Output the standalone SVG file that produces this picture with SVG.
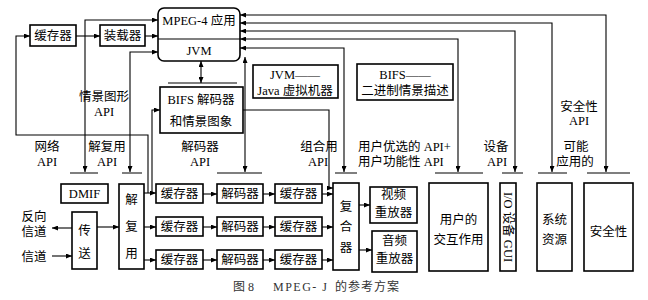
<svg xmlns="http://www.w3.org/2000/svg" width="648" height="300" viewBox="0 0 648 300">
<style>
.b{fill:#fff;stroke:#000;stroke-width:1.6}
.l{fill:none;stroke:#000;stroke-width:1.1}
.a{marker-end:url(#ah)}
.aa{marker-start:url(#ah);marker-end:url(#ah)}
.t{font-family:"Liberation Serif","Noto Sans CJK SC",serif;font-size:12.5px;text-anchor:middle;fill:#000}
.c{font-family:"Liberation Serif","Noto Sans CJK SC",serif;font-size:12px;fill:#333}
</style>
<defs>
<marker id="ah" markerWidth="6" markerHeight="5" refX="6" refY="2.5" orient="auto-start-reverse" markerUnits="userSpaceOnUse">
<path d="M0,0 L6,2.5 L0,5 z" fill="#000"/>
</marker>
</defs>
<rect width="648" height="300" fill="#fff"/>

<g id="connectors">
<path class="l aa" d="M158,20 H85 V172"/>
<path class="l a" d="M145,36 H158"/>
<path class="l aa" d="M158,52 H130 V172"/>
<path class="l a" d="M76,36 H100"/>
<path class="l a" d="M148,193 V135 H16 V36 H30"/>
<path class="l a" d="M144,193 H156"/>
<path class="l a" d="M152,193 V110 H160"/>
<path class="l a" d="M144,227 H156"/>
<path class="l a" d="M144,260 H156"/>
<path class="l a" d="M203,194 H217"/>
<path class="l a" d="M263,194 H275"/>
<path class="l a" d="M322,194 H333"/>
<path class="l a" d="M203,227 H217"/>
<path class="l a" d="M263,227 H275"/>
<path class="l a" d="M322,227 H333"/>
<path class="l a" d="M203,260 H217"/>
<path class="l a" d="M263,260 H275"/>
<path class="l a" d="M322,260 H333"/>
<path class="l a" d="M243,110 H329 V188 H333"/>
<path class="l aa" d="M245,57 V172"/>
<path class="l aa" d="M240,15 H606 V172"/>
<path class="l aa" d="M240,23 H552 V172"/>
<path class="l aa" d="M240,31 H515 V172"/>
<path class="l aa" d="M240,39 H458 V172"/>
<path class="l aa" d="M240,48 H344 V172"/>
<path class="l a" d="M359,205 H370"/>
<path class="l a" d="M359,250 H372"/>
<path class="l a" d="M97,227 H119"/>
<path class="l a" d="M72,228 H52"/>
<path class="l a" d="M52,256 H72"/>
<path class="l aa" d="M201,61 V83"/>
<path class="l" d="M70,173 H98 M122,173 H142 M217,173 H262 M335,173 H357 M435,173 H483 M502,173 H523 M538,173 H567 M587,173 H630 M168,83 H237"/>
</g>

<g id="mpeg4app">
<rect class="b" x="158" y="8" width="82" height="53" rx="6"/>
<line class="l" x1="158" y1="39" x2="240" y2="39"/>
<text class="t" x="199" y="25">MPEG-4 应用</text>
<text class="t" x="199" y="55">JVM</text>
</g>
<g id="buffer-top"><rect class="b" x="30" y="25" width="46" height="21"/><text class="t" x="53" y="40">缓存器</text></g>
<g id="loader"><rect class="b" x="100" y="25" width="45" height="21"/><text class="t" x="122.5" y="40">装载器</text></g>
<g id="jvm-note"><rect class="b" x="253" y="65" width="85" height="33"/><text class="t" x="295" y="79">JVM——</text><text class="t" x="295" y="95">Java 虚拟机器</text></g>
<g id="bifs-note"><rect class="b" x="357" y="64" width="96" height="36"/><text class="t" x="405" y="79">BIFS——</text><text class="t" x="405" y="95">二进制情景描述</text></g>
<g id="bifs-decoder"><rect class="b" x="160" y="87" width="83" height="46"/><text class="t" x="201" y="104">BIFS 解码器</text><text class="t" x="201" y="126">和情景图象</text></g>
<g id="dmif"><rect class="b" x="61" y="184" width="47" height="19"/><text class="t" x="84.5" y="198">DMIF</text></g>
<g id="transport"><rect class="b" x="72" y="212" width="25" height="57"/><text class="t" x="84.5" y="235">传</text><text class="t" x="84.5" y="258">送</text></g>
<g id="demux"><rect class="b" x="119" y="184" width="25" height="85"/><text class="t" x="131.5" y="204">解</text><text class="t" x="131.5" y="231">复</text><text class="t" x="131.5" y="258">用</text></g>

<g id="row1-buf1"><rect class="b" x="156" y="184" width="47" height="19"/><text class="t" x="179.5" y="198">缓存器</text></g>
<g id="row1-dec"><rect class="b" x="217" y="184" width="46" height="19"/><text class="t" x="240" y="198">解码器</text></g>
<g id="row1-buf2"><rect class="b" x="275" y="184" width="47" height="19"/><text class="t" x="298.5" y="198">缓存器</text></g>
<g id="row2-buf1"><rect class="b" x="156" y="217" width="47" height="19"/><text class="t" x="179.5" y="231">缓存器</text></g>
<g id="row2-dec"><rect class="b" x="217" y="217" width="46" height="19"/><text class="t" x="240" y="231">解码器</text></g>
<g id="row2-buf2"><rect class="b" x="275" y="217" width="47" height="19"/><text class="t" x="298.5" y="231">缓存器</text></g>
<g id="row3-buf1"><rect class="b" x="156" y="250" width="47" height="19"/><text class="t" x="179.5" y="264">缓存器</text></g>
<g id="row3-dec"><rect class="b" x="217" y="250" width="46" height="19"/><text class="t" x="240" y="264">解码器</text></g>
<g id="row3-buf2"><rect class="b" x="275" y="250" width="47" height="19"/><text class="t" x="298.5" y="264">缓存器</text></g>

<g id="compositor"><rect class="b" x="333" y="183" width="26" height="87"/><text class="t" x="346" y="211">复</text><text class="t" x="346" y="231">合</text><text class="t" x="346" y="252">器</text></g>
<g id="video"><rect class="b" x="370" y="187" width="47" height="36"/><text class="t" x="393.5" y="199">视频</text><text class="t" x="393.5" y="217">重放器</text></g>
<g id="audio"><rect class="b" x="372" y="231" width="45" height="41"/><text class="t" x="394.5" y="245">音频</text><text class="t" x="394.5" y="263">重放器</text></g>
<g id="user-interaction"><rect class="b" x="429" y="183" width="59" height="88"/><text class="t" x="458.5" y="224">用户的</text><text class="t" x="458.5" y="244">交互作用</text></g>
<g id="io-gui"><rect class="b" x="500" y="183" width="16" height="88"/><text class="t" transform="translate(508,227) rotate(90)" y="4.5">I/O 设备 GUI</text></g>
<g id="system-resources"><rect class="b" x="537" y="183" width="35" height="88"/><text class="t" x="554.5" y="224">系统</text><text class="t" x="554.5" y="244">资源</text></g>
<g id="security"><rect class="b" x="584" y="183" width="49" height="88"/><text class="t" x="608.5" y="236">安全性</text></g>

<g id="labels">
<text class="t" x="104" y="101">情景图形</text><text class="t" x="104" y="116">API</text>
<text class="t" x="47" y="151">网络</text><text class="t" x="47" y="166">API</text>
<text class="t" x="107" y="151">解复用</text><text class="t" x="107" y="166">API</text>
<text class="t" x="200" y="151">解码器</text><text class="t" x="200" y="166">API</text>
<text class="t" x="319" y="151">组合用</text><text class="t" x="318" y="166">API</text>
<text class="t" x="358" y="151" style="text-anchor:start">用户优选的 API+</text><text class="t" x="358" y="166" style="text-anchor:start">用户功能性 API</text>
<text class="t" x="496" y="151">设备</text><text class="t" x="497" y="166">API</text>
<text class="t" x="576" y="151">可能</text><text class="t" x="575" y="166">应用的</text>
<text class="t" x="579" y="111">安全性</text><text class="t" x="579" y="125">API</text>
<text class="t" x="34" y="221">反向</text><text class="t" x="34" y="236">信道</text>
<text class="t" x="34" y="261">信道</text>
</g>

<g id="caption">
<text class="c" x="233" y="291">图 8</text>
<text class="c" x="273" y="291" style="letter-spacing:1.5px">MPEG- J</text>
<text class="c" x="335" y="291" style="letter-spacing:1px">的参考方案</text>
</g>
</svg>
